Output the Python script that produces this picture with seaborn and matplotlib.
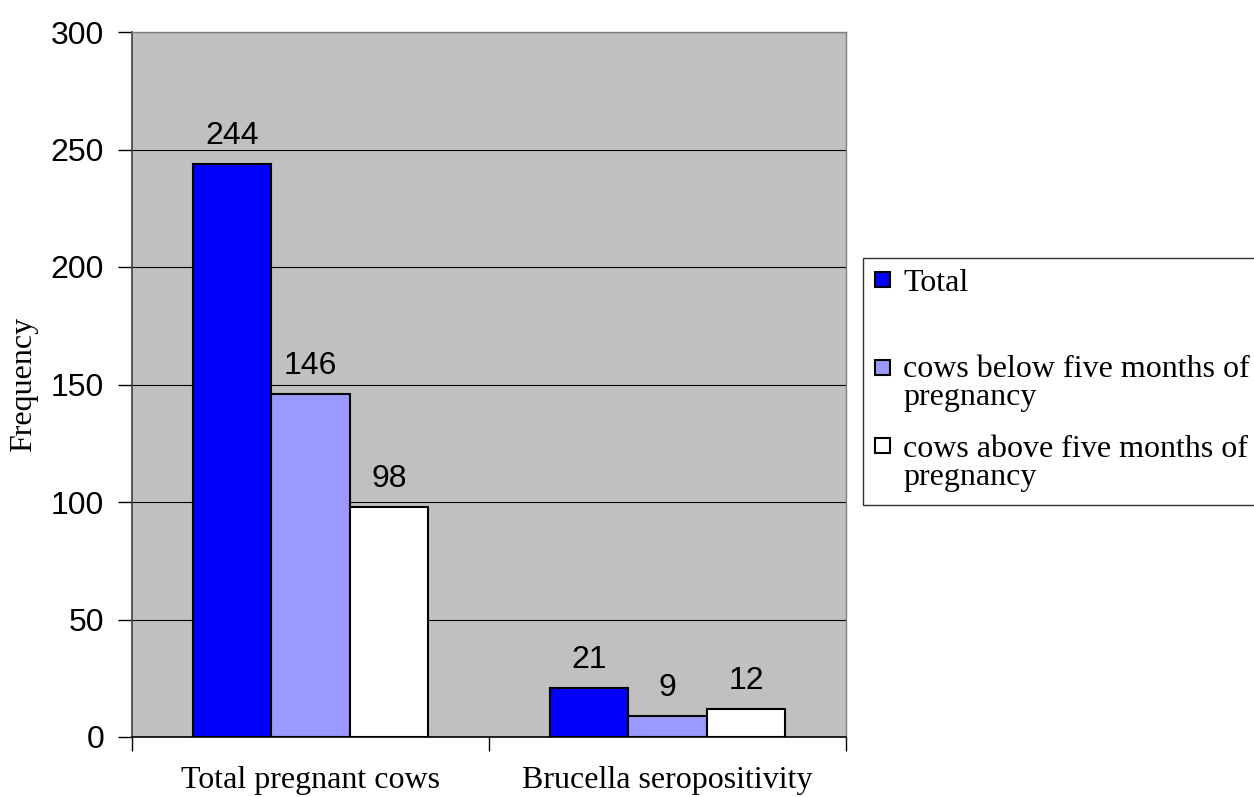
import matplotlib
matplotlib.use("Agg")
import matplotlib.pyplot as plt
from matplotlib.patches import Rectangle
import seaborn as sns
import pandas as pd

categories = ["Total pregnant cows", "Brucella seropositivity"]
series = ["Total", "cows below five months of\npregnancy", "cows above five months of\npregnancy"]
total = [244, 21]
below_five = [146, 9]
above_five = [98, 12]
colors = ["#0000FF", "#9999FF", "#FFFFFF"]
yticks = [0, 50, 100, 150, 200, 250, 300]

rows = []
for name, vals in zip(series, [total, below_five, above_five]):
    for cat, v in zip(categories, vals):
        rows.append({"category": cat, "series": name, "value": v})
df = pd.DataFrame(rows)

sns.set_theme(style="white")
plt.rcParams.update({"text.color": "black", "axes.labelcolor": "black",
                     "xtick.color": "black", "ytick.color": "black"})
serif = ["Liberation Serif", "DejaVu Serif"]
sans = ["Liberation Sans", "DejaVu Sans"]

W, H = 1254, 797
fig = plt.figure(figsize=(W / 100, H / 100), dpi=100)
ax = fig.add_axes([132 / W, 1 - 737 / H, (846 - 132) / W, (737 - 32) / H])
ax.set_facecolor("#C0C0C0")

sns.barplot(data=df, x="category", y="value", hue="series", hue_order=series,
            order=categories, palette=colors, width=0.66, gap=0,
            edgecolor="black", linewidth=1.5, saturation=1, legend=False,
            ax=ax, zorder=3)

for cont in ax.containers:
    ax.bar_label(cont, padding=9, fontsize=23, family=sans, color="black")

ax.set_ylim(0, 300)
ax.set_xlim(-0.5, 1.5)
ax.set_yticks(yticks)
ax.set_yticklabels([str(t) for t in yticks], family=sans, fontsize=23, color="black")
ax.yaxis.grid(True, color="black", linewidth=0.8, zorder=1)
ax.set_axisbelow(True)

# category ticks at the group boundaries, labels at group centres
ax.set_xticks([-0.5, 0.5, 1.5])
ax.set_xticklabels([])
ax.set_xticks([0, 1], minor=True)
ax.set_xticklabels(categories, minor=True, family=serif, fontsize=23, color="black")
ax.tick_params(axis="x", which="major", length=10, width=1, color="black", direction="out", bottom=True)
ax.tick_params(axis="x", which="minor", length=0, pad=21)
ax.tick_params(axis="y", length=10, width=1, color="black", direction="out", left=True, pad=10)

ax.set_xlabel("")
ax.set_ylabel("Frequency", family=serif, fontsize=23, labelpad=9, color="black")

for side in ["top", "right"]:
    ax.spines[side].set_color("#808080")
    ax.spines[side].set_linewidth(1)
ax.spines["left"].set_color("#404040")
ax.spines["left"].set_linewidth(1.2)
ax.spines["bottom"].set_color("black")
ax.spines["bottom"].set_linewidth(1.2)

# legend box, entries aligned on the first line of each label
def fx(px):
    return px / W


def fy(py):
    return 1 - py / H


fig.add_artist(Rectangle((fx(863), fy(505)), fx(1262) - fx(863), fy(258) - fy(505),
                         transform=fig.transFigure, facecolor="white",
                         edgecolor="#303030", linewidth=1, zorder=5))
square_centres = [280, 367, 446]
first_baselines = [291, 377, 457]
for colour, label, cy, base in zip(colors, series, square_centres, first_baselines):
    fig.add_artist(Rectangle((fx(875), fy(cy + 7.5)), fx(15), 15 / H,
                             transform=fig.transFigure, facecolor=colour,
                             edgecolor="black", linewidth=1.5, zorder=6))
    for i, line in enumerate(label.split("\n")):
        fig.text(fx(903), fy(base + 28 * i), line, family=serif, fontsize=23,
                 ha="left", va="baseline", color="black", zorder=7)

fig.savefig("out.png", dpi=100)
